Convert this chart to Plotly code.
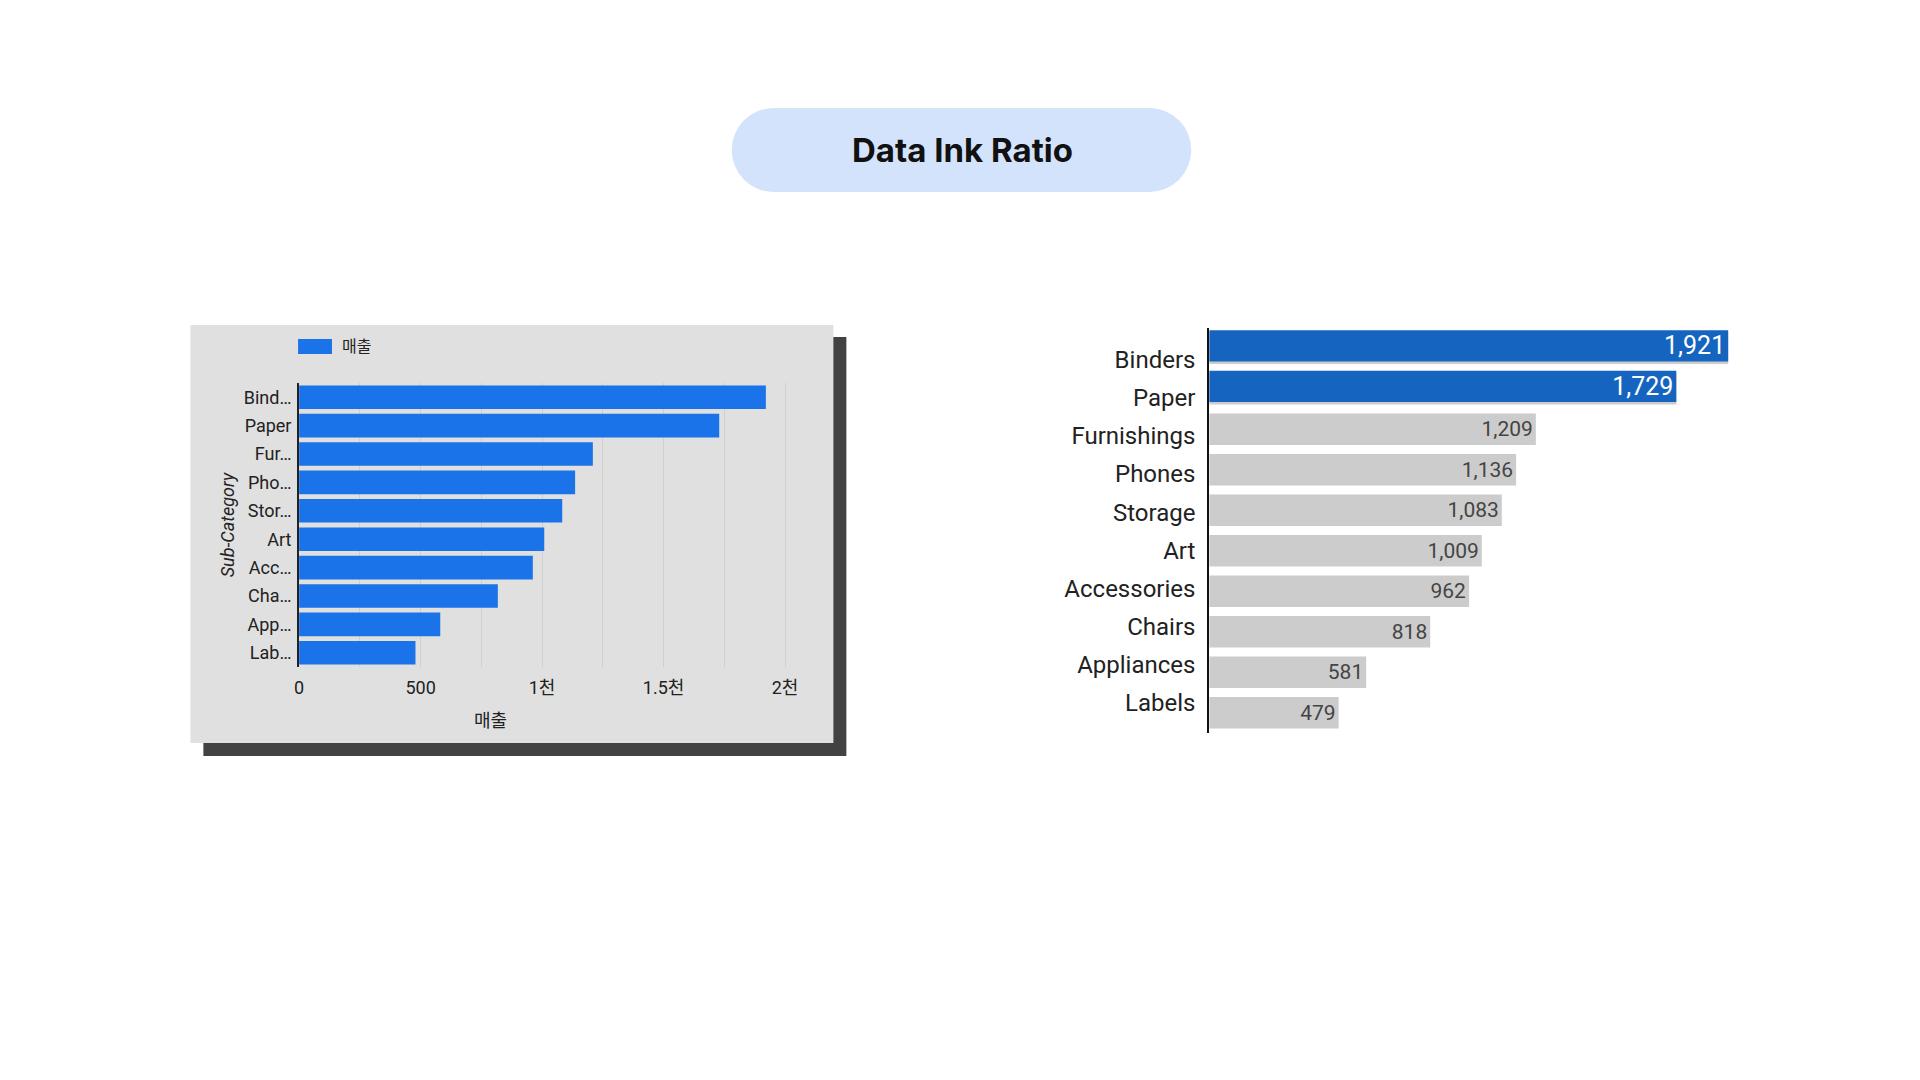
import plotly.graph_objects as go

W, H = 1920, 1080

# ---------------- data ----------------
categories = ["Binders", "Paper", "Furnishings", "Phones", "Storage",
              "Art", "Accessories", "Chairs", "Appliances", "Labels"]
sales = [1921, 1729, 1209, 1136, 1083, 1009, 962, 818, 581, 479]
short_labels = ["Bind…", "Paper", "Fur…", "Pho…", "Stor…",
                "Art", "Acc…", "Cha…", "App…", "Lab…"]
x_tick_vals = [0, 500, 1000, 1500, 2000]
x_tick_text = ["0", "500", "1천", "1.5천", "2천"]
highlight = ["Binders", "Paper"]
title_text = "Data Ink Ratio"
measure_name = "매출"
dim_name = "Sub-Category"

# --------------- helpers (pixel -> paper) ---------------
def fx(p):
    return p / W

def fy(p):
    return 1 - p / H

FONT = "Roboto, 'Noto Sans CJK KR', sans-serif"
LEFT_BLUE = "#1a73e8"
RIGHT_BLUE = "#1565c0"
GRAY_BAR = "#cccccc"

hl_vals = [v for c, v in zip(categories, sales) if c in highlight]
hl_cats = [c for c in categories if c in highlight]
gray_text = ["" if c in highlight else f"{v:,}" for c, v in zip(categories, sales)]
hl_text = [f"{v:,}" for v in hl_vals]

fig = go.Figure()

# ---------------- left chart ----------------
fig.add_trace(go.Bar(
    x=sales, y=categories, orientation="h",
    marker=dict(color=LEFT_BLUE, line=dict(width=0)),
    width=0.83, name=measure_name, showlegend=False,
    xaxis="x", yaxis="y", hoverinfo="x+y",
))

# ---------------- right chart ----------------
fig.add_trace(go.Bar(
    x=sales, y=categories, orientation="h",
    marker=dict(color=GRAY_BAR, line=dict(width=0)),
    width=0.78, showlegend=False,
    text=gray_text, textposition="inside", insidetextanchor="end",
    constraintext="none",
    textfont=dict(family=FONT, size=21, color="#444444"),
    xaxis="x2", yaxis="y2", hoverinfo="x+y",
))
fig.add_trace(go.Bar(
    x=hl_vals, y=hl_cats, orientation="h",
    marker=dict(color=RIGHT_BLUE, line=dict(width=0)),
    width=0.77, offset=-0.445, showlegend=False,
    text=hl_text, textposition="inside", insidetextanchor="end",
    constraintext="none",
    textfont=dict(family=FONT, size=25, color="#ffffff"),
    xaxis="x2", yaxis="y2", hoverinfo="x+y",
))
# category labels of the right chart (own axis, slightly tighter spacing as in the reference)
fig.add_trace(go.Scatter(
    x=sales, y=categories, mode="markers",
    marker=dict(opacity=0, size=1), showlegend=False, hoverinfo="skip",
    xaxis="x3", yaxis="y3",
))

shapes = []
# title pill
pill_l, pill_r, pill_t, pill_b = 729, 1190, 108, 192
rad = (pill_b - pill_t) / 2
pill_col = "#d3e3fc"
shapes.append(dict(type="rect", xref="paper", yref="paper",
                   x0=fx(pill_l + rad), x1=fx(pill_r - rad), y0=fy(pill_b), y1=fy(pill_t),
                   fillcolor=pill_col, line=dict(width=0), layer="below"))
shapes.append(dict(type="circle", xref="paper", yref="paper",
                   x0=fx(pill_l), x1=fx(pill_l + 2 * rad), y0=fy(pill_b), y1=fy(pill_t),
                   fillcolor=pill_col, line=dict(width=0), layer="below"))
shapes.append(dict(type="circle", xref="paper", yref="paper",
                   x0=fx(pill_r - 2 * rad), x1=fx(pill_r), y0=fy(pill_b), y1=fy(pill_t),
                   fillcolor=pill_col, line=dict(width=0), layer="below"))
# left panel shadow + background
shapes.append(dict(type="rect", xref="paper", yref="paper",
                   x0=fx(199), x1=fx(844), y0=fy(756), y1=fy(337),
                   fillcolor="#424242", line=dict(width=0), layer="below"))
shapes.append(dict(type="rect", xref="paper", yref="paper",
                   x0=fx(186), x1=fx(831), y0=fy(743), y1=fy(325),
                   fillcolor="#e0e0e0", line=dict(width=0), layer="below"))
# legend swatch
shapes.append(dict(type="rect", xref="paper", yref="paper",
                   x0=fx(294), x1=fx(328), y0=fy(354), y1=fy(339),
                   fillcolor=LEFT_BLUE, line=dict(width=0), layer="above"))

annotations = [
    dict(text=title_text, xref="paper", yref="paper", x=fx(960), y=fy(150),
         xanchor="center", yanchor="middle", showarrow=False,
         font=dict(family="Inter, Roboto, sans-serif", size=33, color="#111111", weight=700)),
    dict(text=measure_name, xref="paper", yref="paper", x=fx(336), y=fy(346),
         xanchor="left", yanchor="middle", showarrow=False,
         font=dict(family=FONT, size=16, color="#222222")),
    # x-axis title of the left chart
    dict(text=measure_name, xref="paper", yref="paper", x=fx(487), y=fy(720),
         xanchor="center", yanchor="middle", showarrow=False,
         font=dict(family=FONT, size=18, color="#222222")),
]

LX0 = 295
LSCALE = 0.24375  # px per unit
LRANGE = 2050

fig.update_layout(
    width=W, height=H,
    margin=dict(l=0, r=0, t=0, b=0),
    paper_bgcolor="#ffffff", plot_bgcolor="rgba(0,0,0,0)",
    barmode="overlay",
    showlegend=False,
    font=dict(family=FONT, color="#222222"),
    shapes=shapes, annotations=annotations,
    xaxis=dict(
        domain=[fx(LX0), fx(LX0 + LSCALE * LRANGE)], range=[0, LRANGE], anchor="y",
        tickmode="array", tickvals=x_tick_vals, ticktext=x_tick_text,
        showgrid=True, gridcolor="#cfcfcf", gridwidth=1,
        minor=dict(tickmode="linear", tick0=0, dtick=250, showgrid=True,
                   gridcolor="#cfcfcf", gridwidth=1),
        ticks="outside", ticklen=4, tickcolor="rgba(0,0,0,0)",
        tickfont=dict(family=FONT, size=18, color="#222222"),
        zeroline=False, showline=False,
        fixedrange=True,
    ),
    yaxis=dict(
        domain=[fy(667), fy(383)], anchor="x",
        type="category", categoryorder="array", categoryarray=categories,
        autorange="reversed",
        tickmode="array", tickvals=categories, ticktext=short_labels,
        tickfont=dict(family=FONT, size=18, color="#222222"),
        ticks="outside", ticklen=2, tickcolor="rgba(0,0,0,0)",
        showgrid=False, showline=True, linecolor="#222222", linewidth=2,
        title=dict(text=dim_name, standoff=4,
                   font=dict(family=FONT, size=18, color="#222222", style="italic")),
        fixedrange=True,
    ),
    xaxis2=dict(
        domain=[fx(1208), fx(1750)], range=[0, 2000], anchor="y2",
        showgrid=False, showticklabels=False, zeroline=False, showline=False,
        ticks="", fixedrange=True,
    ),
    yaxis2=dict(
        domain=[fy(733), fy(328)], anchor="x2",
        type="category", categoryorder="array", categoryarray=categories,
        autorange="reversed",
        showticklabels=False, ticks="",
        showgrid=False, showline=True, linecolor="#111111", linewidth=2,
        fixedrange=True,
    ),
    xaxis3=dict(
        domain=[fx(1208), fx(1750)], range=[0, 2000], anchor="y3",
        showgrid=False, showticklabels=False, zeroline=False, showline=False,
        ticks="", fixedrange=True, visible=False,
    ),
    yaxis3=dict(
        domain=[fy(725.4), fy(337.1)], anchor="x3",
        type="category", categoryorder="array", categoryarray=categories,
        autorange="reversed",
        tickfont=dict(family=FONT, size=24, color="#222222"),
        ticks="outside", ticklen=8, tickcolor="rgba(0,0,0,0)",
        showgrid=False, showline=False, zeroline=False,
        fixedrange=True,
    ),
)

fig.write_html("out.html")
